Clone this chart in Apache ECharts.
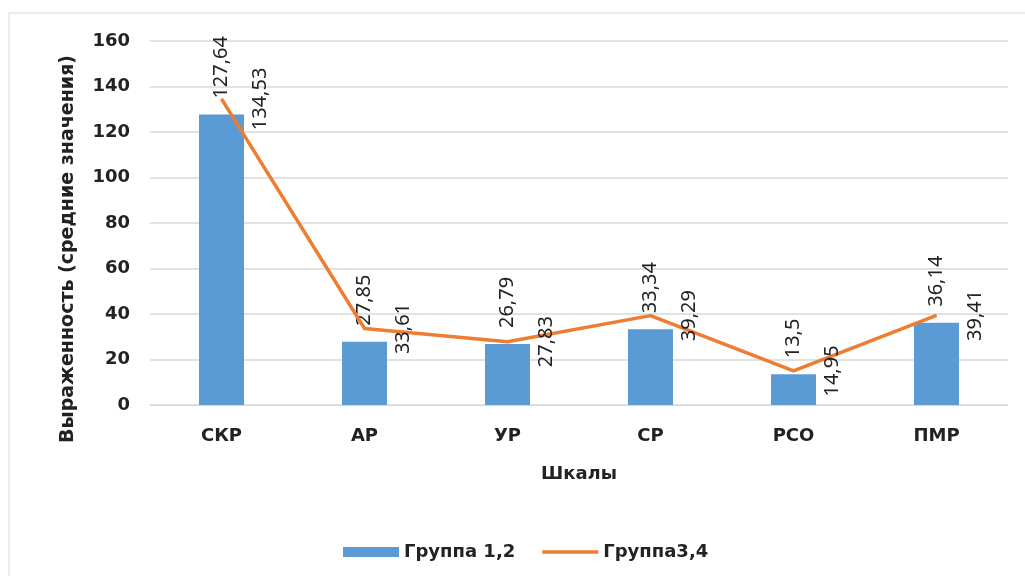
<!DOCTYPE html>
<html>
<head>
<meta charset="utf-8">
<script src="https://cdn.jsdelivr.net/npm/echarts@6/dist/echarts.min.js"></script>
<style>
  html, body { margin: 0; padding: 0; background: #fff; }
  #main { width: 1025px; height: 576px; }
</style>
</head>
<body>
<div id="main"></div>
<script>
// данные
const categories = ['СКР', 'АР', 'УР', 'СР', 'РСО', 'ПМР'];
const group12 = [127.64, 27.85, 26.79, 33.34, 13.5, 36.14];
const group34 = [134.53, 33.61, 27.83, 39.29, 14.95, 39.41];

const comma = p => String(p.value).replace('.', ',');
const boldFont = 'DejaVu Sans';

const chart = echarts.init(document.getElementById('main'));
chart.setOption({
  animation: false,
  graphic: [{
    type: 'rect',
    shape: { x: 9, y: 13, width: 1030, height: 580 },
    style: { fill: 'none', stroke: '#d9d9d9', lineWidth: 1 }
  }],
  grid: { left: 150, right: 17, top: 41, bottom: 171 },
  legend: {
    left: 338,
    top: 538,
    itemWidth: 56,
    itemHeight: 10,
    itemGap: 27,
    textStyle: { fontFamily: boldFont, fontWeight: 'bold', fontSize: 18, color: '#222' },
    data: [
      { name: 'Группа 1,2', icon: 'rect' },
      { name: 'Группа3,4', icon: 'path://M0,0 L60,0 L60,4 L0,4 Z' }
    ]
  },
  xAxis: {
    type: 'category',
    data: categories,
    name: 'Шкалы',
    nameLocation: 'middle',
    nameGap: 60,
    nameTextStyle: { fontFamily: boldFont, fontWeight: 'bold', fontSize: 18, color: '#222' },
    axisLine: { lineStyle: { color: '#d9d9d9' } },
    axisTick: { show: false },
    axisLabel: { margin: 22, fontFamily: boldFont, fontWeight: 'bold', fontSize: 18, color: '#222' }
  },
  yAxis: {
    type: 'value',
    min: 0,
    max: 160,
    interval: 20,
    name: 'Выраженность (средние значения)',
    nameLocation: 'middle',
    nameGap: 72,
    nameTextStyle: {
      fontFamily: boldFont, fontWeight: 'bold', fontSize: 19, color: '#222',
      padding: [0, 52, 0, 0]
    },
    axisLine: { show: false },
    axisTick: { show: false },
    splitLine: { lineStyle: { color: '#d9d9d9', width: 1.5 } },
    axisLabel: { margin: 20, fontFamily: boldFont, fontWeight: 'bold', fontSize: 18, color: '#222' }
  },
  series: [
    {
      name: 'Группа 1,2',
      type: 'bar',
      data: group12,
      barWidth: 45,
      itemStyle: { color: '#5b9bd5' },
      label: {
        show: true,
        position: 'top',
        distance: 16,
        rotate: 90,
        align: 'left',
        verticalAlign: 'middle',
        fontFamily: 'Noto Sans',
        fontSize: 20,
        color: '#222',
        formatter: comma
      }
    },
    {
      name: 'Группа3,4',
      type: 'line',
      data: group34,
      symbol: 'circle',
      symbolSize: 1,
      itemStyle: { color: '#ed7d31' },
      lineStyle: { color: '#ed7d31', width: 3.5 },
      label: {
        show: true,
        position: 'right',
        distance: 38,
        rotate: 90,
        align: 'center',
        verticalAlign: 'middle',
        fontFamily: 'Noto Sans',
        fontSize: 20,
        color: '#222',
        formatter: comma
      }
    }
  ]
});
</script>
</body>
</html>
